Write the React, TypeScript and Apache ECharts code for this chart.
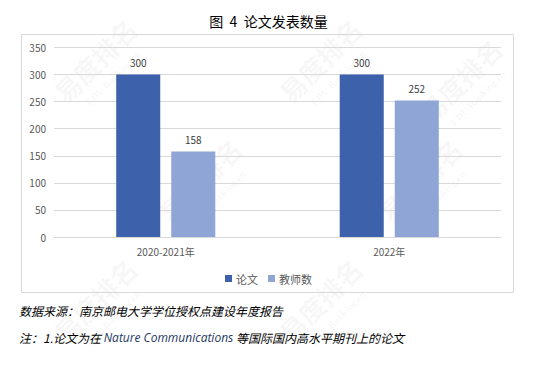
import React, { useEffect, useRef } from "react";
import * as echarts from "echarts";

const categories = ["2020-2021年", "2022年"];
const seriesNames = ["论文", "教师数"];
const paperValues = [300, 300];
const teacherValues = [158, 252];
const yTicks = { min: 0, max: 350, interval: 50 };
const titleText = "图  4  论文发表数量";
const sourceNote = "数据来源：南京邮电大学学位授权点建设年度报告";
const noteParts = ["注：1.论文为在 ", "Nature Communications", " 等国际国内高水平期刊上的论文"];

const FONT = "'Noto Sans CJK SC', 'Noto Sans', sans-serif";

const watermarkPositions = [
  [95, 60], [320, 60], [460, 80],
  [200, 180], [420, 180],
  [95, 300], [320, 300],
];

export default function App() {
  const ref = useRef<HTMLDivElement>(null);
  useEffect(() => {
    if (!ref.current) return;
    const chart = echarts.init(ref.current, null, { renderer: "svg" });
    const watermarks: any[] = [];
    watermarkPositions.forEach(([x, y]) => {
      watermarks.push({
        type: "text",
        x,
        y,
        rotation: Math.PI / 4,
        silent: true,
        z: 0,
        style: {
          text: "易度排名",
          fill: "rgba(0,0,0,0.05)",
          font: `bold 26px ${FONT}`,
          align: "center",
          verticalAlign: "middle",
        },
      });
      watermarks.push({
        type: "text",
        x: x + 18,
        y: y + 18,
        rotation: Math.PI / 4,
        silent: true,
        z: 0,
        style: {
          text: "EDU Ranking.cn",
          fill: "rgba(0,0,0,0.05)",
          font: `bold 10px serif`,
          align: "center",
          verticalAlign: "middle",
        },
      });
    });
    chart.setOption({
      animation: false,
      backgroundColor: "#ffffff",
      title: {
        text: titleText,
        left: "center",
        top: 9,
        textStyle: { fontFamily: FONT, fontSize: 14, fontWeight: "normal", color: "#000000" },
      },
      grid: { left: 54, right: 36, top: 47.5, bottom: 130, containLabel: false },
      legend: {
        data: seriesNames,
        top: 268,
        left: "center",
        itemWidth: 7,
        itemHeight: 7,
        itemGap: 10,
        icon: "rect",
        textStyle: { fontFamily: FONT, fontSize: 11, color: "#595959", padding: [0, 0, 0, -1] },
      },
      xAxis: {
        type: "category",
        data: categories,
        axisLine: { lineStyle: { color: "#d9d9d9" } },
        axisTick: { show: false },
        axisLabel: { fontFamily: FONT, fontSize: 10, color: "#595959", margin: 9 },
      },
      yAxis: {
        type: "value",
        min: yTicks.min,
        max: yTicks.max,
        interval: yTicks.interval,
        axisLine: { show: false },
        axisTick: { show: false },
        splitLine: { lineStyle: { color: "#d9d9d9" } },
        axisLabel: { fontFamily: FONT, fontSize: 10, color: "#595959", margin: 8 },
      },
      series: [
        {
          name: seriesNames[0],
          type: "bar",
          data: paperValues,
          barWidth: "19.7%",
          barGap: "25%",
          itemStyle: { color: "#3d62ab" },
          label: { show: true, position: "top", distance: 7, fontFamily: FONT, fontSize: 10, color: "#404040" },
          z: 5,
        },
        {
          name: seriesNames[1],
          type: "bar",
          data: teacherValues,
          barWidth: "19.7%",
          barGap: "25%",
          itemStyle: { color: "#8fa5d5" },
          label: { show: true, position: "top", distance: 7, fontFamily: FONT, fontSize: 10, color: "#404040" },
          z: 5,
        },
      ],
      graphic: [
        {
          type: "rect",
          shape: { x: 21.5, y: 34.5, width: 492, height: 258 },
          silent: true,
          z: 1,
          style: { fill: "none", stroke: "#d9d9d9", lineWidth: 1 },
        },
        ...watermarks,
        {
          type: "text",
          x: 19,
          y: 310,
          z: 10,
          style: {
            text: sourceNote,
            fill: "#000000",
            font: `italic 12px ${FONT}`,
            verticalAlign: "middle",
          },
        },
        {
          type: "text",
          x: 19,
          y: 337,
          z: 10,
          style: {
            text: `{a|${noteParts[0]}}{b|${noteParts[1]}}{a|${noteParts[2]}}`,
            verticalAlign: "middle",
            rich: {
              a: { fontFamily: FONT, fontStyle: "italic", fontSize: 12, fill: "#000000", color: "#000000" },
              b: { fontFamily: "'Open Sans', sans-serif", fontStyle: "italic", fontSize: 12, fill: "#1f3864", color: "#1f3864" },
            },
          },
        },
      ],
    });
    return () => chart.dispose();
  }, []);
  return (
    <div
      ref={ref}
      style={{ position: "absolute", left: 0, top: 0, width: 537, height: 367 }}
    />
  );
}
